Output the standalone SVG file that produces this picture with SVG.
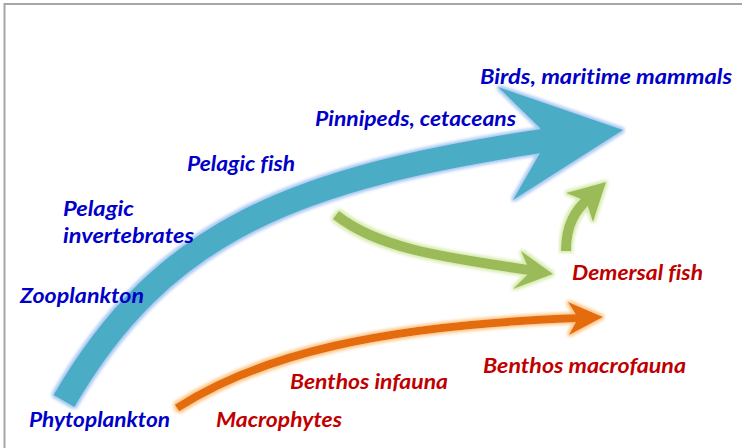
<svg xmlns="http://www.w3.org/2000/svg" width="742" height="448" viewBox="0 0 742 448">
<style>
.t{font-family:Lato,"Open Sans","Liberation Sans",sans-serif;font-size:21px;font-weight:bold;font-style:italic;font-variant-ligatures:none;font-feature-settings:"liga" 0}
.b{fill:#0000c8}
.r{fill:#c00000}
.frame{stroke:#a6a6a6;stroke-width:2;fill:none}
</style>
<defs>
<filter id="glowB" x="-10%" y="-10%" width="120%" height="120%">
<feMorphology in="SourceAlpha" operator="dilate" radius="2" result="d"/>
<feGaussianBlur in="d" stdDeviation="1.4" result="bl"/>
<feFlood flood-color="#a9c9f4"/>
<feComposite in2="bl" operator="in" result="g"/>
<feMerge><feMergeNode in="g"/><feMergeNode in="SourceGraphic"/></feMerge>
</filter>
<filter id="glowG" x="-20%" y="-20%" width="140%" height="140%">
<feMorphology in="SourceAlpha" operator="dilate" radius="2" result="d"/>
<feGaussianBlur in="d" stdDeviation="1.6" result="bl"/>
<feFlood flood-color="#d9edb2"/>
<feComposite in2="bl" operator="in" result="g"/>
<feMerge><feMergeNode in="g"/><feMergeNode in="SourceGraphic"/></feMerge>
</filter>
<filter id="glowO" x="-10%" y="-20%" width="120%" height="140%">
<feMorphology in="SourceAlpha" operator="dilate" radius="2" result="d"/>
<feGaussianBlur in="d" stdDeviation="1.6" result="bl"/>
<feFlood flood-color="#fcca8c"/>
<feComposite in2="bl" operator="in" result="g"/>
<feMerge><feMergeNode in="g"/><feMergeNode in="SourceGraphic"/></feMerge>
</filter>
</defs>
<rect width="742" height="448" fill="#ffffff"/>
<path class="frame" d="M4.5,448 V4 H742"/>
<g id="connectors">
<g id="arrow-pelagic" filter="url(#glowB)">
<path d="M64,401 C163,230 295,177.5 548,140" fill="none" stroke="#4bacc6" stroke-width="24" stroke-linecap="butt"/>
<polygon points="540,128 498,87 623,130 513,200 540,153" fill="#4bacc6"/>
</g>
<g id="arrow-green1" filter="url(#glowG)">
<path d="M336,215 C380,250 450,258 535,271" fill="none" stroke="#9bbb59" stroke-width="10"/>
<polygon points="521,251 553,274 513,289 530,272" fill="#9bbb59"/>
</g>
<g id="arrow-green2" filter="url(#glowG)">
<path d="M566,251 C566,225 575,210 590,197" fill="none" stroke="#9bbb59" stroke-width="10"/>
<polygon points="566,193 606,182 593,222 586,201" fill="#9bbb59"/>
</g>
<g id="arrow-benthos" filter="url(#glowO)">
<path d="M177,408 C260,355 380,325 580,318" fill="none" stroke="#e46c0a" stroke-width="8"/>
<polygon points="568,302 603,317 569,335 578,318" fill="#e46c0a"/>
</g>
</g>
<g id="birds"><text class="t b" x="480" y="84" textLength="252" lengthAdjust="spacingAndGlyphs">Birds, maritime mammals</text></g>
<g id="pinnipeds"><text class="t b" x="315" y="126" textLength="201" lengthAdjust="spacingAndGlyphs">Pinnipeds, cetaceans</text></g>
<g id="pelagic-fish"><text class="t b" x="187" y="171" textLength="108" lengthAdjust="spacingAndGlyphs">Pelagic fish</text></g>
<g id="pelagic-invertebrates"><text class="t b" x="63" y="216" textLength="71" lengthAdjust="spacingAndGlyphs">Pelagic</text><text class="t b" x="63" y="243" textLength="131" lengthAdjust="spacingAndGlyphs">invertebrates</text></g>
<g id="zooplankton"><text class="t b" x="20" y="303" textLength="124" lengthAdjust="spacingAndGlyphs">Zooplankton</text></g>
<g id="phytoplankton"><text class="t b" x="29" y="427" textLength="141" lengthAdjust="spacingAndGlyphs">Phytoplankton</text></g>
<g id="macrophytes"><text class="t r" x="216" y="427" textLength="126" lengthAdjust="spacingAndGlyphs">Macrophytes</text></g>
<g id="benthos-infauna"><text class="t r" x="290" y="389" textLength="158" lengthAdjust="spacingAndGlyphs">Benthos infauna</text></g>
<g id="benthos-macrofauna"><text class="t r" x="483" y="373" textLength="203" lengthAdjust="spacingAndGlyphs">Benthos macrofauna</text></g>
<g id="demersal-fish"><text class="t r" x="572" y="280" textLength="131" lengthAdjust="spacingAndGlyphs">Demersal fish</text></g>
</svg>
